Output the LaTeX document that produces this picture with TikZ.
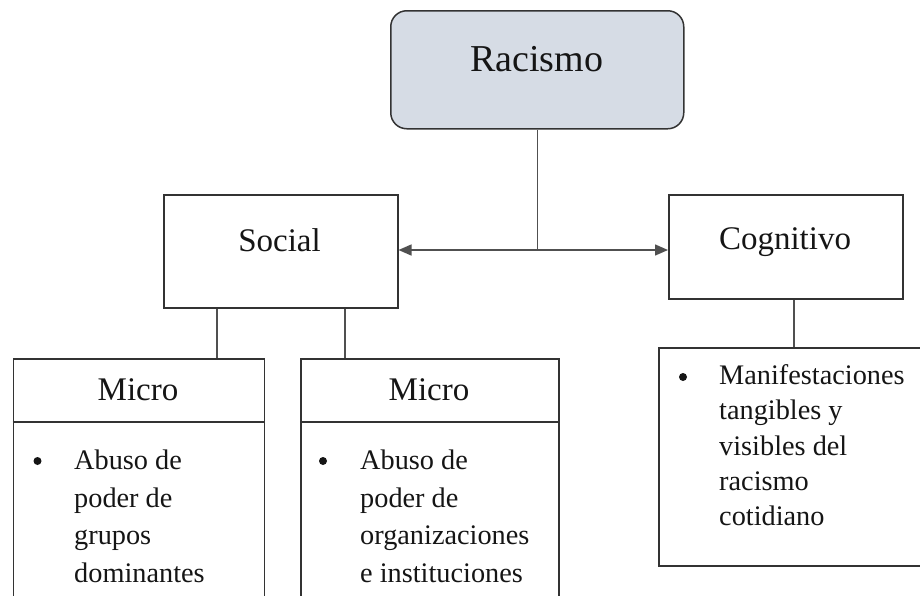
\documentclass[tikz,border=0pt]{standalone}
\usepackage{fontspec}
\setmainfont{Liberation Serif}
\usetikzlibrary{arrows.meta}
\definecolor{edge}{HTML}{333333}
\definecolor{conn}{HTML}{505050}
\definecolor{topfill}{HTML}{D6DCE5}
\definecolor{ink}{HTML}{151515}
\tikzset{
  frame/.style={draw=edge, line width=1.5pt},
  conline/.style={draw=conn, line width=1.4pt},
  title/.style={font=\fontsize{38}{44}\selectfont, text=ink, inner sep=0pt},
  head/.style={font=\fontsize{33}{40}\selectfont, text=ink, inner sep=0pt},
  body/.style={font=\fontsize{28.3}{37.7}\selectfont, text=ink, align=left, inner sep=0pt, anchor=north west},
  bodyr/.style={font=\fontsize{28.3}{35.2}\selectfont, text=ink, align=left, inner sep=0pt, anchor=north west},
  bul/.style={circle, fill=ink, inner sep=0pt, minimum size=8pt},
  tip/.style={-{Triangle[length=13pt,width=11pt]}}
}
\begin{document}
\begin{tikzpicture}[x=1pt,y=-1pt]
\useasboundingbox (0,0) rectangle (920,595);
\clip (0,0) rectangle (920,595);
% top box
\node[frame, fill=topfill, rounded corners=16pt, minimum width=293pt, minimum height=118pt, anchor=north west] (rac) at (390,10) {};
\node[title, anchor=base] (ract) at (536.5,71) {Racismo};
% level 2 boxes
\node[frame, minimum width=234pt, minimum height=113pt, anchor=north west] (soc) at (163,194) {};
\node[head, anchor=base] (soct) at (279.5,251) {Social};
\node[frame, minimum width=234pt, minimum height=104pt, anchor=north west] (cog) at (668,194) {};
\node[head, anchor=base] (cogt) at (785,249) {Cognitivo};
% junction
\coordinate (jn) at (rac.south |- 0,250);
\draw[conline] (rac.south) -- (jn);
\draw[conline, tip] (jn) -- (soc.east |- jn);
\draw[conline, tip] (jn) -- (cog.west |- jn);
% bottom boxes (left two)
\node[frame, minimum width=251pt, minimum height=260pt, anchor=north west] (m1) at (12.5,358) {};
\node[frame, minimum width=258pt, minimum height=260pt, anchor=north west] (m2) at (300,358) {};
\draw[frame] (m1.west |- 0,422) -- (m1.east |- 0,422);
\draw[frame] (m2.west |- 0,422) -- (m2.east |- 0,422);
\node[head] (m1t) at (138,390) {Micro};
\node[head] (m2t) at (429,390) {Micro};
\node[bul] (b1) at (37.5,461) {};
\node[body] (t1) at (74,449.5) {Abuso de\\poder de\\grupos\\dominantes};
\node[bul] (b2) at (323,461) {};
\node[body] (t2) at (360,449.5) {Abuso de\\poder de\\organizaciones\\e instituciones};
% right bottom box
\node[frame, minimum width=290pt, minimum height=218pt, anchor=north west] (cb) at (658,347) {};
\node[bul] (b3) at (683,377) {};
\node[bodyr] (t3) at (719,364.5) {Manifestaciones\\tangibles y\\visibles del\\racismo\\cotidiano};
% connectors
\draw[conline] (soc.south -| 217,0) -- (m1.north -| 217,0);
\draw[conline] (soc.south -| 345,0) -- (m2.north -| 345,0);
\draw[conline] (cog.south -| 794,0) -- (cb.north -| 794,0);
\end{tikzpicture}
\end{document}
